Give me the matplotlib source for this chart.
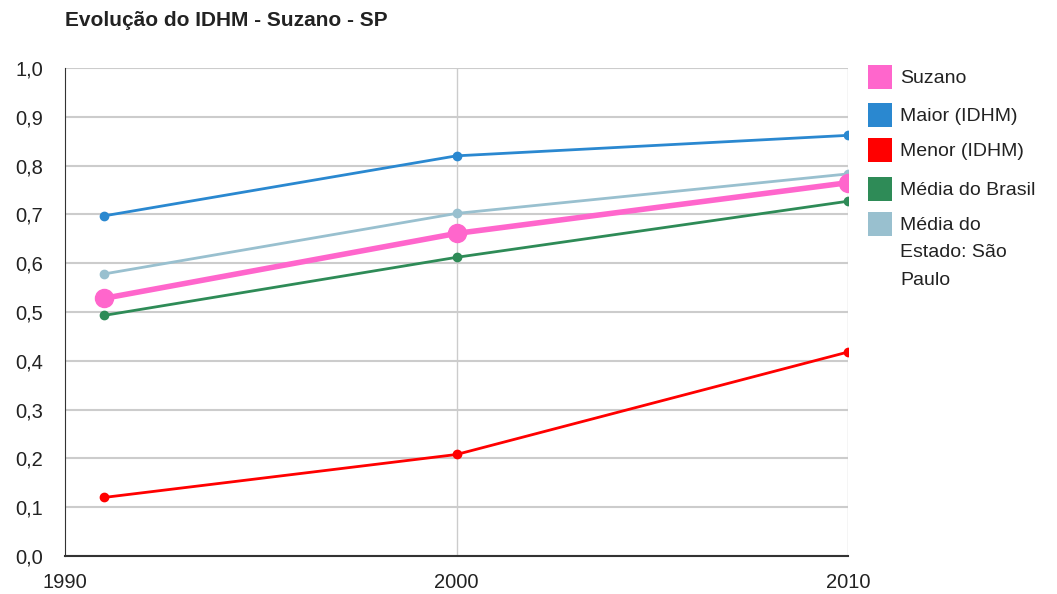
import matplotlib.pyplot as plt
from matplotlib.patches import Rectangle

plt.rcParams['font.family'] = ['Liberation Sans', 'DejaVu Sans']

anos = [1991, 2000, 2010]
suzano = [0.528, 0.661, 0.765]
maior = [0.697, 0.820, 0.862]
menor = [0.120, 0.208, 0.418]
brasil = [0.493, 0.612, 0.727]
estado_sp = [0.578, 0.702, 0.783]

nomes = ["Suzano", "Maior (IDHM)", "Menor (IDHM)", "Média do Brasil",
         "Média do\nEstado: São\nPaulo"]
cores = ["#ff66cc", "#2a88d0", "#ff0000", "#2e8b57", "#99c0cf"]

W, H = 1057, 594
fig = plt.figure(figsize=(W / 100, H / 100), dpi=100)
ax = fig.add_axes([65 / W, 38 / H, 783 / W, 488 / H])

# thin lines first, Suzano on top
series = [maior, menor, brasil, estado_sp]
for vals, cor in zip(series, cores[1:]):
    ax.plot(anos, vals, color=cor, linewidth=2, marker='o', markersize=6, zorder=3)
ax.plot(anos, suzano, color=cores[0], linewidth=4, marker='o', markersize=13, zorder=4)

ax.set_xlim(1990, 2010)
ax.set_ylim(0, 1.0)
ax.set_xticks([1990, 2000, 2010])
ax.set_yticks([i / 10 for i in range(11)])
ax.set_yticklabels([f"{i / 10:.1f}".replace('.', ',') for i in range(11)])
ax.tick_params(length=0, labelsize=14.5, colors='#222222')
ax.tick_params(axis='x', pad=12)
ax.tick_params(axis='y', pad=16)

ax.grid(axis='y', color='#cccccc', linewidth=1.5)
ax.axvline(2000, color='#cccccc', linewidth=1)
ax.axvline(2010, color='#cccccc', linewidth=1)
ax.set_axisbelow(True)
for s in ['top', 'right']:
    ax.spines[s].set_visible(False)
ax.spines['left'].set_color('#333333')
ax.spines['bottom'].set_color('#333333')
ax.spines['bottom'].set_linewidth(1.5)

fig.text(65 / W, 1 - 20 / H, "Evolução do IDHM - Suzano - SP", fontsize=15,
         fontweight='bold', color='#222222', va='center')

# legend drawn by hand: square swatch aligned with the first text line
tops = [65, 103, 138, 177, 212]
for nome, cor, topo in zip(nomes, cores, tops):
    fig.patches.append(Rectangle((868 / W, 1 - (topo + 24) / H), 24 / W, 24 / H,
                                 facecolor=cor, edgecolor='none',
                                 transform=fig.transFigure, figure=fig))
    fig.text(900 / W, 1 - (topo + 5) / H, nome, fontsize=14, color='#222222',
             va='top', ha='left', linespacing=1.8)

plt.savefig("out.png", dpi=100)
